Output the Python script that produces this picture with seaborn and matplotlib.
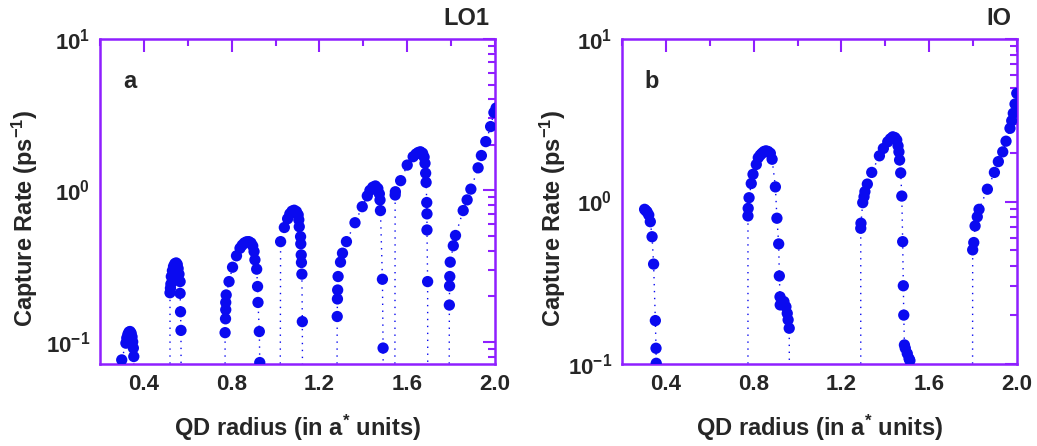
import matplotlib
matplotlib.use("Agg")
import matplotlib.pyplot as plt
from matplotlib.ticker import MultipleLocator, LogLocator, NullFormatter
import seaborn as sns

# capture rate vs QD radius; 0.01 marks where a branch drops below the axis
a_radius = [0.299, 0.318, 0.322, 0.327, 0.332, 0.337, 0.342, 0.346, 0.349, 0.352, 0.354, 0.356,
            0.519, 0.519, 0.521, 0.523, 0.525, 0.530, 0.535, 0.541, 0.547, 0.552, 0.556, 0.560, 0.565,
            0.565, 0.567, 0.569, 0.571,
            0.770, 0.770, 0.772, 0.773, 0.773, 0.775, 0.788, 0.804, 0.822, 0.838, 0.848, 0.858, 0.868,
            0.878, 0.888, 0.896, 0.902, 0.906, 0.914, 0.918, 0.920, 0.926, 0.928, 0.930,
            1.020, 1.023, 1.040, 1.055, 1.065, 1.075, 1.085, 1.095, 1.103, 1.106, 1.108, 1.114, 1.115,
            1.117, 1.118, 1.120, 1.122, 1.124,
            1.278, 1.281, 1.282, 1.283, 1.285, 1.296, 1.305, 1.323, 1.362, 1.395, 1.418, 1.430, 1.443,
            1.455, 1.466, 1.473, 1.476, 1.478, 1.487, 1.490, 1.492,
            1.543, 1.545, 1.546, 1.570, 1.600, 1.627, 1.640, 1.650, 1.660, 1.670, 1.677, 1.681, 1.684,
            1.686, 1.689, 1.690, 1.690, 1.693, 1.694,
            1.790, 1.792, 1.793, 1.794, 1.796, 1.810, 1.820, 1.855, 1.873, 1.890, 1.923, 1.938, 1.958,
            1.980, 1.995, 2.005]
a_rate = [0.076, 0.098, 0.106, 0.112, 0.116, 0.117, 0.114, 0.108, 0.100, 0.091, 0.080, 0.01,
          0.01, 0.211, 0.226, 0.241, 0.270, 0.295, 0.315, 0.328, 0.332, 0.325, 0.305, 0.280, 0.250,
          0.209, 0.158, 0.119, 0.01,
          0.01, 0.115, 0.142, 0.163, 0.182, 0.204, 0.250, 0.311, 0.370, 0.415, 0.435, 0.450, 0.458,
          0.459, 0.450, 0.430, 0.395, 0.348, 0.302, 0.232, 0.182, 0.117, 0.073, 0.01,
          0.01, 0.459, 0.569, 0.650, 0.700, 0.730, 0.740, 0.725, 0.690, 0.640, 0.576, 0.495, 0.444,
          0.375, 0.334, 0.280, 0.136, 0.01,
          0.01, 0.147, 0.192, 0.220, 0.270, 0.336, 0.385, 0.459, 0.612, 0.781, 0.920, 1.000, 1.050,
          1.070, 1.030, 0.950, 0.865, 0.736, 0.259, 0.091, 0.01,
          0.01, 0.933, 0.980, 1.160, 1.470, 1.670, 1.740, 1.780, 1.800, 1.760, 1.660, 1.510, 1.300,
          1.130, 0.832, 0.700, 0.548, 0.250, 0.01,
          0.01, 0.175, 0.234, 0.270, 0.336, 0.431, 0.504, 0.736, 0.866, 1.020, 1.410, 1.700, 2.100,
          2.640, 3.270, 3.500]

b_radius = [0.303, 0.308, 0.314, 0.322, 0.329, 0.337, 0.344, 0.352, 0.355, 0.356, 0.358,
            0.774, 0.774, 0.775, 0.779, 0.789, 0.797, 0.812, 0.821, 0.830, 0.838, 0.847, 0.856, 0.866,
            0.876, 0.884, 0.899, 0.906, 0.914, 0.917, 0.920, 0.921, 0.938, 0.947, 0.953, 0.957, 0.962,
            0.965,
            1.288, 1.288, 1.289, 1.297, 1.303, 1.307, 1.318, 1.338, 1.373, 1.391, 1.411, 1.423, 1.434,
            1.444, 1.452, 1.458, 1.462, 1.465, 1.470, 1.475, 1.479, 1.482, 1.484, 1.487, 1.491, 1.500,
            1.508, 1.512, 1.515,
            1.797, 1.798, 1.803, 1.809, 1.819, 1.827, 1.865, 1.897, 1.915, 1.935, 1.950, 1.968, 1.976,
            1.983, 1.991, 1.999]
b_rate = [0.895, 0.880, 0.865, 0.826, 0.751, 0.607, 0.412, 0.185, 0.125, 0.101, 0.01,
          0.01, 0.815, 0.908, 1.055, 1.290, 1.470, 1.690, 1.860, 1.930, 1.980, 2.030, 2.050, 2.030,
          1.980, 1.820, 1.230, 0.789, 0.548, 0.348, 0.259, 0.231, 0.242, 0.225, 0.205, 0.187, 0.166,
          0.01,
          0.01, 0.684, 0.735, 0.984, 1.070, 1.150, 1.280, 1.510, 1.910, 2.120, 2.330, 2.430, 2.500,
          2.470, 2.390, 2.200, 2.020, 1.800, 1.500, 1.080, 0.566, 0.303, 0.200, 0.131, 0.125, 0.116,
          0.108, 0.105, 0.01,
          0.01, 0.504, 0.559, 0.707, 0.805, 0.895, 1.190, 1.510, 1.760, 2.020, 2.350, 2.820, 3.140,
          3.490, 3.980, 4.630]

panels = [("a", "LO1", a_radius, a_rate, 0.0714),
          ("b", "IO", b_radius, b_rate, 0.1)]
xtick_vals = [0.4, 0.8, 1.2, 1.6, 2.0]

sns.set_style("white")
plt.rcParams["font.family"] = ["Liberation Sans", "DejaVu Sans"]
plt.rcParams["font.weight"] = "bold"
plt.rcParams["mathtext.fontset"] = "custom"
plt.rcParams["mathtext.rm"] = "Liberation Sans:bold"
plt.rcParams["mathtext.bf"] = "Liberation Sans:bold"
plt.rcParams["mathtext.it"] = "Liberation Sans:bold"

frame = "#8f1fff"
dot = "#0a0af0"

fig = plt.figure(figsize=(10.37, 4.46), dpi=100)
lefts = [100 / 1037, 622 / 1037]
ylab_x = {"a": -0.152, "b": -0.137}

for (letter, title, xs, ys, ylow), left in zip(panels, lefts):
    ax = fig.add_axes([left, 82 / 446, 395 / 1037, 325 / 446])
    ax.set_yscale("log")
    sns.lineplot(x=xs, y=ys, sort=False, estimator=None, ax=ax, color=dot,
                 linestyle=(0, (1, 4)), linewidth=1.0)
    sns.scatterplot(x=xs, y=ys, ax=ax, color=dot, s=66, edgecolor="none", zorder=3)
    ax.set_xlim(0.2, 2.0)
    ax.set_ylim(ylow, 10)

    ax.set_xticks(xtick_vals)
    ax.set_xticklabels([f"{v:.1f}" for v in xtick_vals])
    ax.xaxis.set_minor_locator(MultipleLocator(0.2))
    ax.set_yticks([0.1, 1, 10])
    ax.set_yticklabels([r"$10^{-1}$", r"$10^{0}$", r"$10^{1}$"])
    ax.yaxis.set_minor_locator(LogLocator(base=10, subs=range(2, 10)))
    ax.yaxis.set_minor_formatter(NullFormatter())

    ax.tick_params(which="both", direction="in", top=True, right=True,
                   color=frame, width=1.5, labelsize=16)
    ax.tick_params(which="major", length=9, pad=7)
    ax.tick_params(which="minor", length=5)
    for sp in ax.spines.values():
        sp.set_color(frame)
        sp.set_linewidth(1.8)

    ax.set_xlabel(r"QD radius (in a$^{*}$ units)", fontsize=17, fontweight="bold", labelpad=13)
    ax.set_ylabel(r"Capture Rate (ps$^{-1}$)", fontsize=17, fontweight="bold")
    ax.yaxis.set_label_coords(ylab_x[letter], 0.45)
    ax.text(0.987, 1.028, title, transform=ax.transAxes, ha="right", va="bottom",
            fontsize=17, fontweight="bold")
    ax.text(0.058, 0.868, letter, transform=ax.transAxes, ha="left", va="center",
            fontsize=17, fontweight="bold")

fig.savefig("out.png", dpi=100)
